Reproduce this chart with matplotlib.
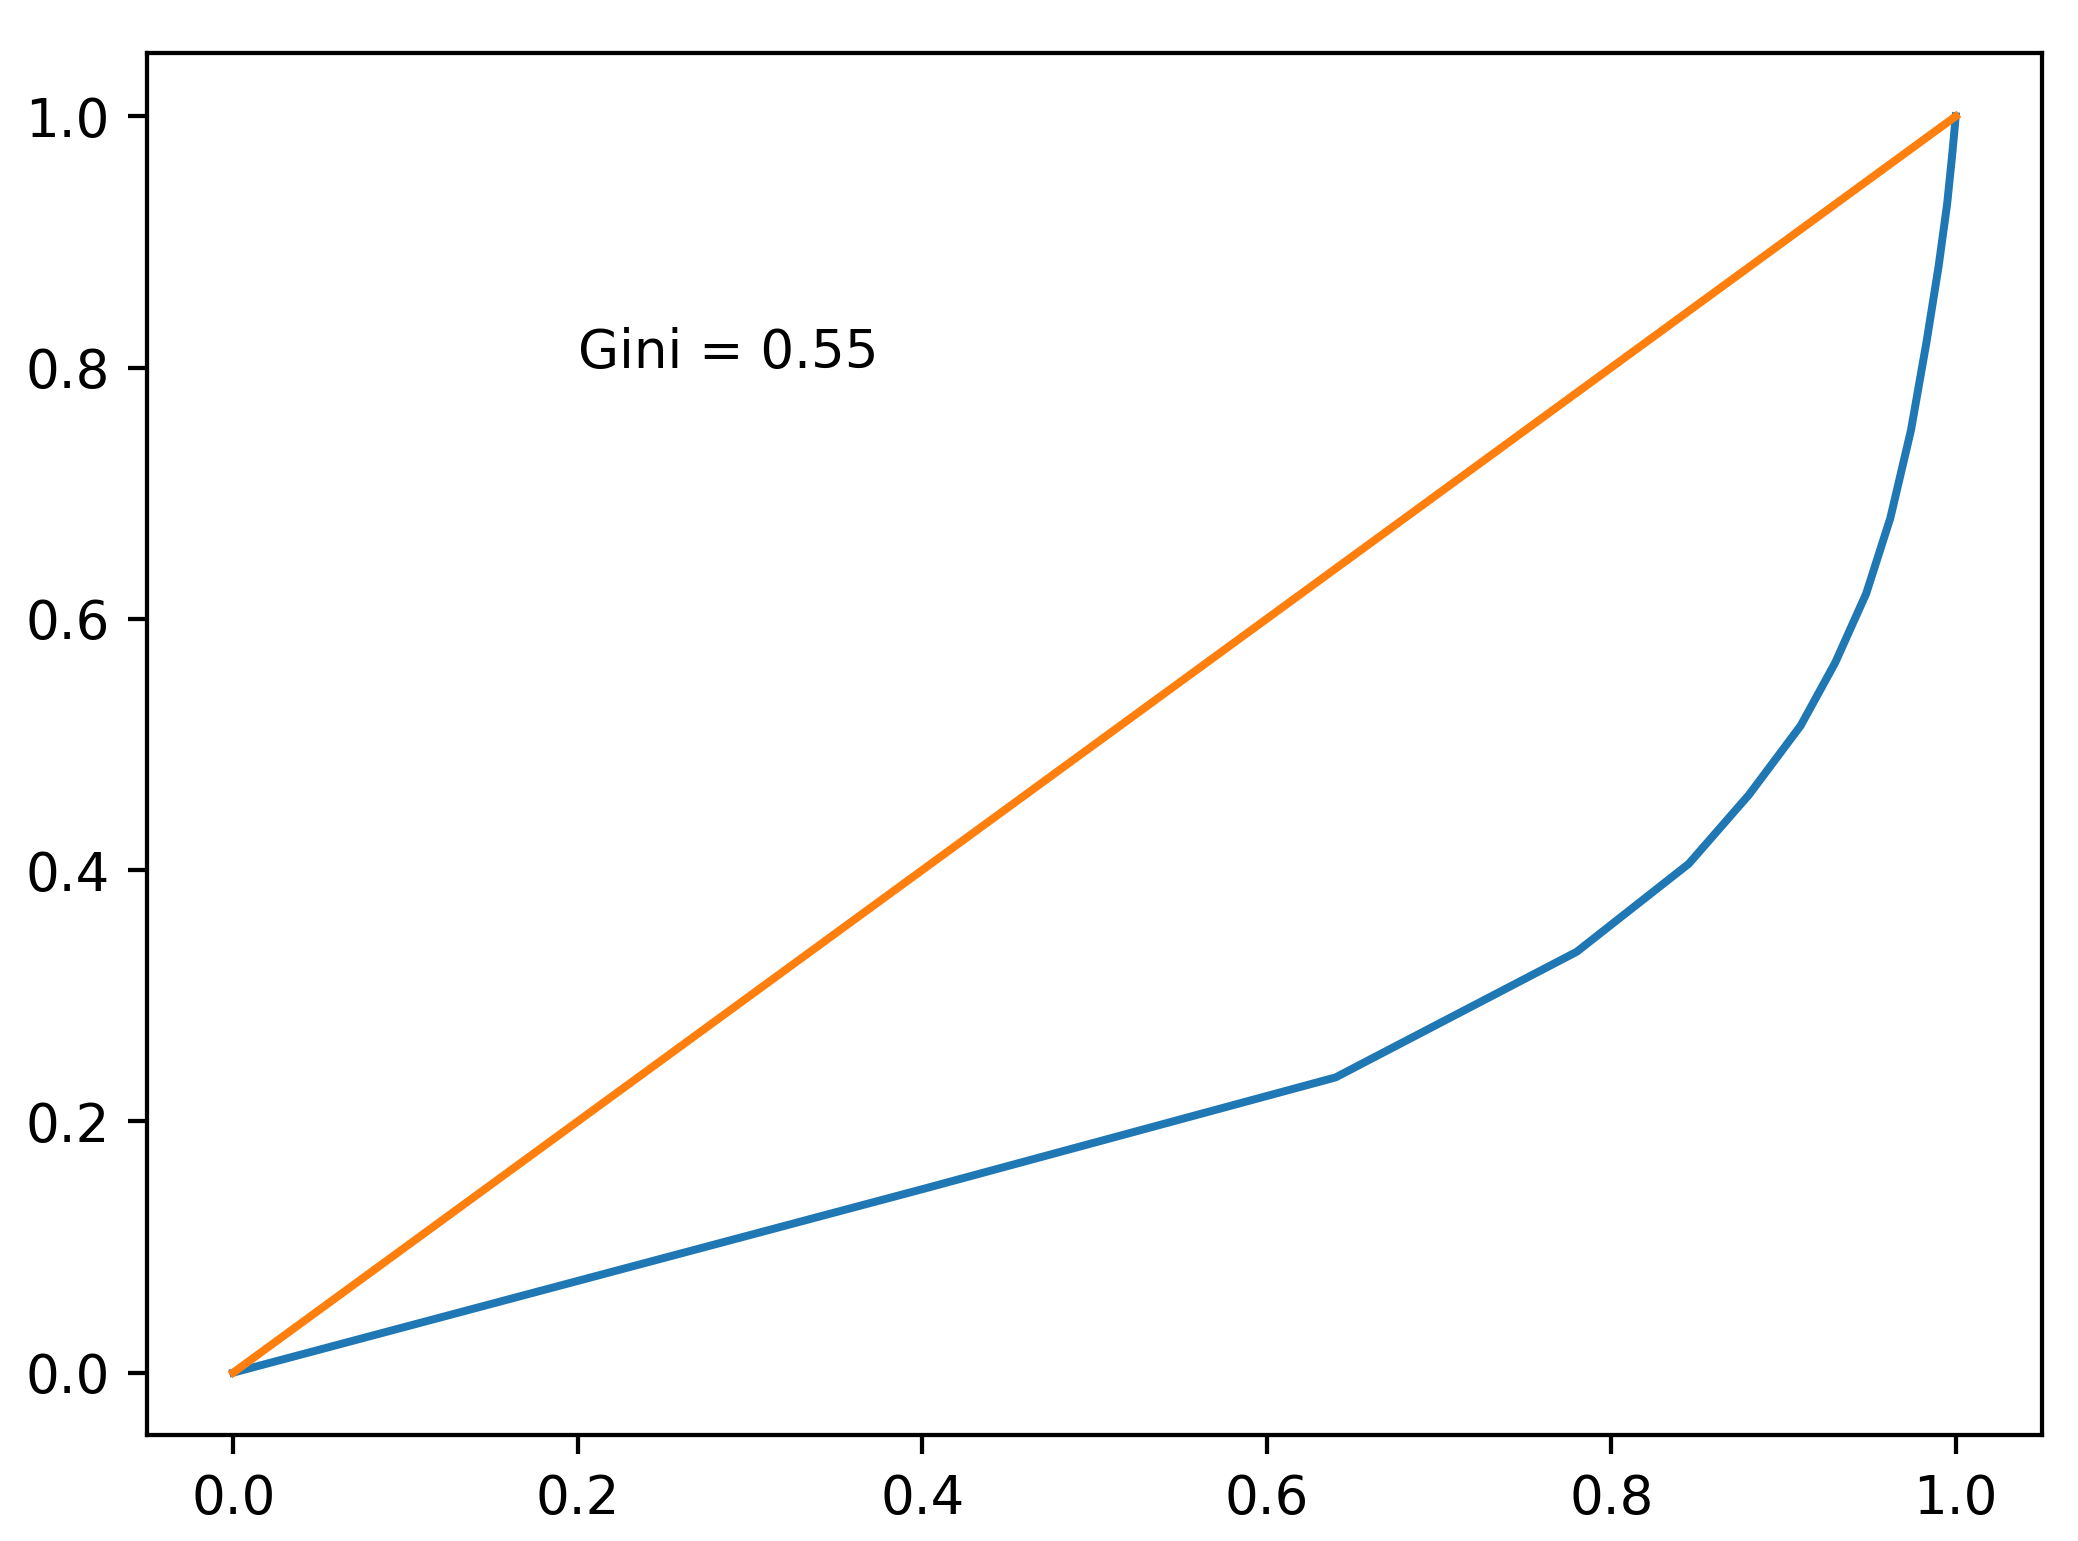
import matplotlib
matplotlib.use("Agg")
import matplotlib.pyplot as plt

lorenz_x = [0.0, 0.2, 0.4, 0.64, 0.78, 0.845, 0.88, 0.91, 0.93, 0.948, 0.962, 0.974, 0.983, 0.99, 0.995, 0.998, 1.0]
lorenz_y = [0.0, 0.073, 0.146, 0.235, 0.335, 0.405, 0.46, 0.515, 0.565, 0.62, 0.68, 0.75, 0.82, 0.88, 0.93, 0.97, 1.0]
equal_x = [0.0, 1.0]
equal_y = [0.0, 1.0]
gini_label = "Gini = 0.55"

fig, ax = plt.subplots(figsize=(2078 / 382, 1541 / 382), dpi=382)
fig.subplots_adjust(left=0.0708, right=0.9826, top=0.9653, bottom=0.0685)
ax.plot(lorenz_x, lorenz_y)
ax.plot(equal_x, equal_y)
ax.text(0.2, 0.8, gini_label)
fig.savefig("out.png")
